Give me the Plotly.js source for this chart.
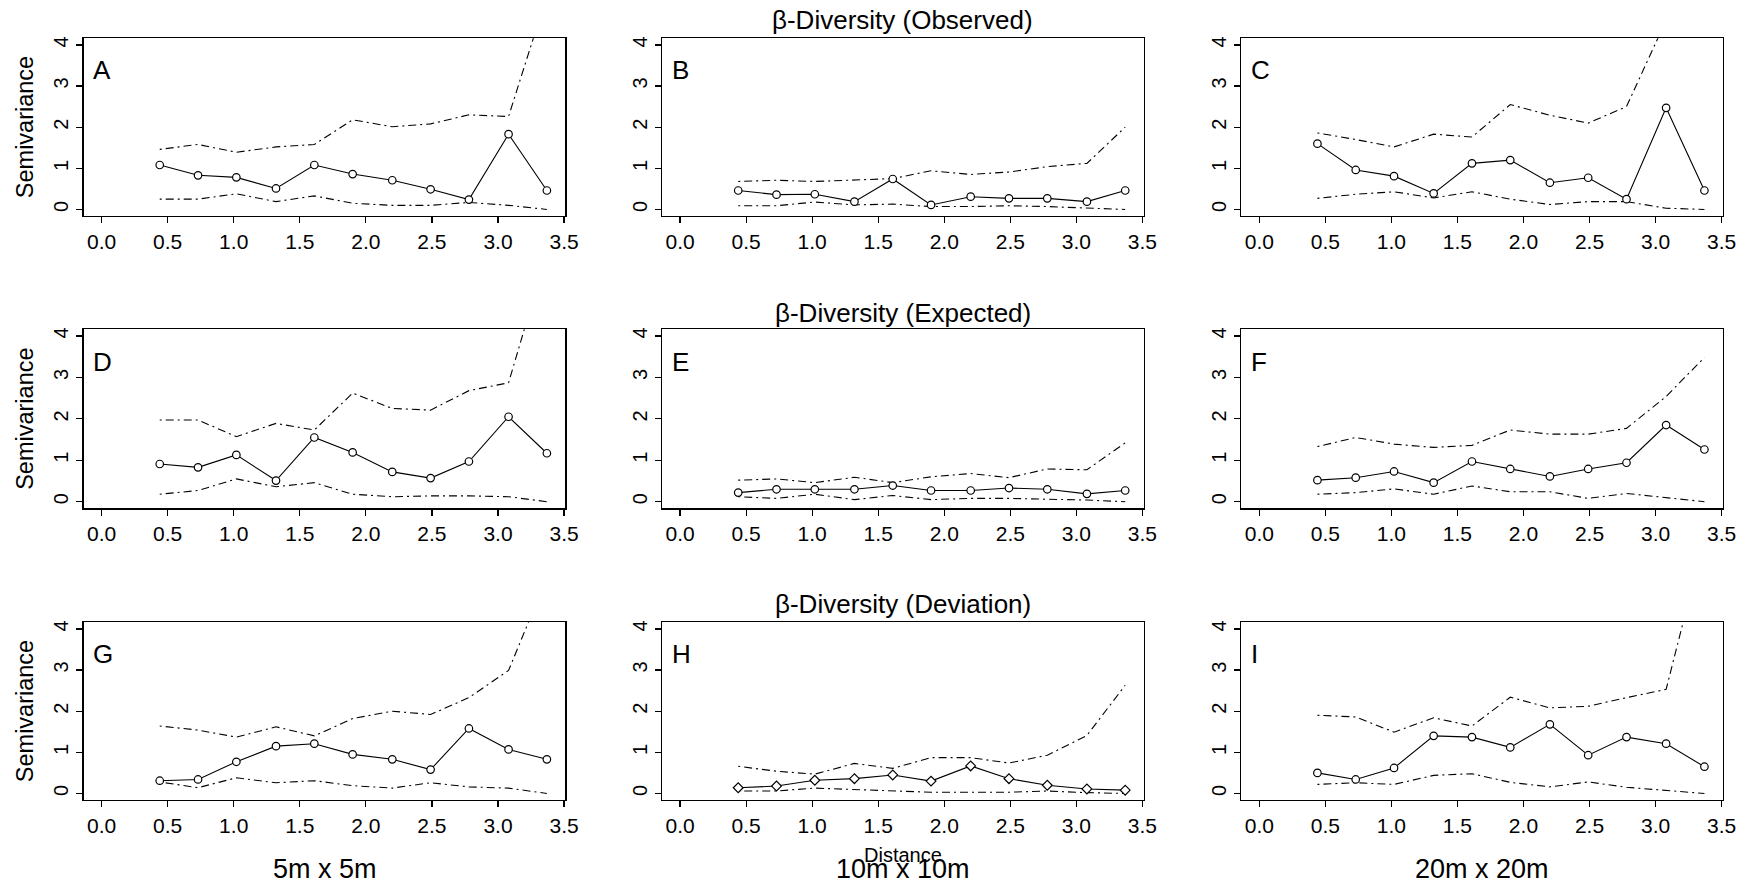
<!DOCTYPE html>
<html><head><meta charset="utf-8">
<script src="https://cdn.plot.ly/plotly-3.0.1.min.js"></script>
<style>html,body{margin:0;padding:0;background:#fff}</style>
</head><body><div id="chart" style="width:1752px;height:885px"></div>
<script>
// Distance classes (shared by all panels)
const distance = [0.44, 0.73, 1.02, 1.32, 1.61, 1.90, 2.20, 2.49, 2.78, 3.08, 3.37];

const panelLetters = ["A", "B", "C", "D", "E", "F", "G", "H", "I"];
const rowTitles = ["β-Diversity (Observed)", "β-Diversity (Expected)", "β-Diversity (Deviation)"];
const columnLabels = ["5m x 5m", "10m x 10m", "20m x 20m"];
const xTickValues = [0, 0.5, 1, 1.5, 2, 2.5, 3, 3.5];
const yTickValues = [0, 1, 2, 3, 4];

// Semivariance (points) and upper / lower envelopes per panel
const semA = [1.08, 0.83, 0.78, 0.51, 1.08, 0.86, 0.71, 0.49, 0.24, 1.83, 0.46];
const upA  = [1.46, 1.58, 1.39, 1.52, 1.58, 2.18, 2.01, 2.08, 2.30, 2.26, 5.20];
const loA  = [0.25, 0.25, 0.38, 0.19, 0.33, 0.15, 0.10, 0.10, 0.17, 0.10, 0.00];

const semB = [0.46, 0.36, 0.37, 0.19, 0.74, 0.11, 0.31, 0.27, 0.27, 0.19, 0.46];
const upB  = [0.68, 0.71, 0.68, 0.71, 0.75, 0.94, 0.85, 0.91, 1.04, 1.12, 2.00];
const loB  = [0.09, 0.09, 0.18, 0.11, 0.13, 0.07, 0.07, 0.09, 0.07, 0.03, 0.00];

const semC = [1.60, 0.96, 0.81, 0.39, 1.12, 1.20, 0.65, 0.77, 0.25, 2.47, 0.46];
const upC  = [1.86, 1.70, 1.52, 1.83, 1.76, 2.55, 2.29, 2.10, 2.50, 4.60, 6.00];
const loC  = [0.27, 0.37, 0.43, 0.28, 0.43, 0.25, 0.12, 0.19, 0.19, 0.03, 0.00];

const semD = [0.91, 0.83, 1.13, 0.51, 1.55, 1.19, 0.72, 0.57, 0.97, 2.05, 1.17];
const upD  = [1.97, 1.97, 1.57, 1.89, 1.73, 2.62, 2.25, 2.21, 2.68, 2.87, 6.00];
const loD  = [0.18, 0.27, 0.55, 0.36, 0.46, 0.18, 0.12, 0.14, 0.14, 0.12, 0.00];

const semE = [0.22, 0.30, 0.30, 0.30, 0.39, 0.27, 0.27, 0.33, 0.30, 0.19, 0.27];
const upE  = [0.52, 0.55, 0.46, 0.59, 0.46, 0.60, 0.68, 0.58, 0.79, 0.77, 1.42];
const loE  = [0.12, 0.08, 0.18, 0.05, 0.15, 0.05, 0.08, 0.08, 0.06, 0.04, 0.00];

const semF = [0.52, 0.58, 0.73, 0.46, 0.97, 0.79, 0.61, 0.79, 0.94, 1.85, 1.26];
const upF  = [1.33, 1.55, 1.39, 1.31, 1.36, 1.73, 1.63, 1.63, 1.77, 2.54, 3.48];
const loF  = [0.18, 0.22, 0.31, 0.18, 0.38, 0.24, 0.24, 0.08, 0.20, 0.10, 0.00];

const semG = [0.31, 0.34, 0.77, 1.15, 1.21, 0.95, 0.83, 0.58, 1.58, 1.07, 0.83];
const upG  = [1.64, 1.54, 1.37, 1.62, 1.40, 1.82, 2.00, 1.92, 2.33, 2.99, 5.25];
const loG  = [0.28, 0.14, 0.38, 0.26, 0.31, 0.19, 0.13, 0.26, 0.16, 0.13, 0.00];

const semH = [0.14, 0.18, 0.32, 0.36, 0.45, 0.30, 0.67, 0.36, 0.20, 0.11, 0.08];
const upH  = [0.66, 0.54, 0.47, 0.73, 0.61, 0.87, 0.87, 0.74, 0.93, 1.41, 2.63];
const loH  = [0.06, 0.06, 0.13, 0.10, 0.06, 0.03, 0.03, 0.03, 0.06, 0.02, 0.00];

const semI = [0.50, 0.34, 0.62, 1.40, 1.37, 1.12, 1.68, 0.93, 1.37, 1.21, 0.65];
const upI  = [1.90, 1.86, 1.49, 1.84, 1.64, 2.34, 2.08, 2.12, 2.33, 2.53, 6.20];
const loI  = [0.22, 0.26, 0.22, 0.44, 0.48, 0.27, 0.16, 0.28, 0.15, 0.07, 0.00];

const semSeries = [semA, semB, semC, semD, semE, semF, semG, semH, semI];
const upSeries  = [upA, upB, upC, upD, upE, upF, upG, upH, upI];
const loSeries  = [loA, loB, loC, loD, loE, loF, loG, loH, loI];

// ---------- layout geometry ----------
const colX = [[0.0478, 0.3227], [0.3780, 0.6528], [0.7086, 0.9834]];
const rowY = [[0.7559, 0.9567], [0.4256, 0.6279], [0.0960, 0.2968]];
const FONT = "Liberation Sans, Arial, sans-serif";
const envDash = "2px,4px,8px,4px";

const traces = [];
const layout = {
  width: 1752, height: 885,
  margin: {l: 0, r: 0, t: 0, b: 0},
  paper_bgcolor: "#ffffff", plot_bgcolor: "#ffffff",
  showlegend: false,
  font: {family: FONT, color: "#000"},
  annotations: []
};

for (let i = 0; i < 9; i++) {
  const r = Math.floor(i / 3), c = i % 3;
  const n = i + 1;
  const xa = "x" + (n === 1 ? "" : n), ya = "y" + (n === 1 ? "" : n);
  const xk = "xaxis" + (n === 1 ? "" : n), yk = "yaxis" + (n === 1 ? "" : n);
  const sym = (i === 7) ? "diamond" : "circle";

  traces.push({x: distance, y: upSeries[i], xaxis: xa, yaxis: ya, mode: "lines",
    line: {color: "#000", width: 1.1, dash: envDash}, hoverinfo: "skip"});
  traces.push({x: distance, y: loSeries[i], xaxis: xa, yaxis: ya, mode: "lines",
    line: {color: "#000", width: 1.1, dash: envDash}, hoverinfo: "skip"});
  traces.push({x: distance, y: semSeries[i], xaxis: xa, yaxis: ya, mode: "lines+markers",
    line: {color: "#000", width: 1.1},
    marker: {symbol: sym, size: 7.5, color: "#fff", line: {color: "#000", width: 1.2}}});

  layout[xk] = {
    domain: colX[c], anchor: ya, range: [-0.135, 3.51],
    tickmode: "array", tickvals: xTickValues, tickformat: ".1f",
    showline: true, mirror: true, linecolor: "#000", linewidth: 1.3,
    ticks: "outside", ticklen: 6, tickwidth: 1.2, tickcolor: "#000",
    showgrid: false, zeroline: false, fixedrange: true,
    tickfont: {family: FONT, size: 21, color: "#000"}
  };
  layout[yk] = {
    domain: rowY[r], anchor: xa, range: [-0.16, 4.16],
    tickmode: "array", tickvals: yTickValues, tickangle: -90,
    showline: true, mirror: true, linecolor: "#000", linewidth: 1.3,
    ticks: "outside", ticklen: 6, tickwidth: 1.2, tickcolor: "#000",
    showgrid: false, zeroline: false, fixedrange: true,
    tickfont: {family: FONT, size: 20, color: "#000"}
  };

  layout.annotations.push({
    text: panelLetters[i], xref: xa + " domain", yref: ya + " domain",
    x: 0.016, y: 0.82, xanchor: "left", yanchor: "middle", showarrow: false,
    font: {family: FONT, size: 26, color: "#000"}
  });
}

// Row titles over the middle column
const titleY = [0.977, 0.646, 0.317];
for (let r = 0; r < 3; r++) {
  layout.annotations.push({
    text: rowTitles[r], xref: "paper", yref: "paper",
    x: (colX[1][0] + colX[1][1]) / 2, y: titleY[r], xanchor: "center", yanchor: "middle",
    showarrow: false, font: {family: FONT, size: 26, color: "#000"}
  });
  // Semivariance labels left of first column
  layout.annotations.push({
    text: "Semivariance", xref: "paper", yref: "paper",
    x: 25 / 1752, y: (rowY[r][0] + rowY[r][1]) / 2, xanchor: "center", yanchor: "middle",
    textangle: -90, showarrow: false, font: {family: FONT, size: 23.5, color: "#000"}
  });
}

// Column labels and shared x-axis label
for (let c = 0; c < 3; c++) {
  layout.annotations.push({
    text: columnLabels[c], xref: "paper", yref: "paper",
    x: (colX[c][0] + colX[c][1]) / 2, y: 1 - 869 / 885, xanchor: "center", yanchor: "middle",
    showarrow: false, font: {family: FONT, size: 27, color: "#000"}
  });
}
layout.annotations.push({
  text: "Distance", xref: "paper", yref: "paper",
  x: (colX[1][0] + colX[1][1]) / 2, y: 1 - 855 / 885, xanchor: "center", yanchor: "middle",
  showarrow: false, font: {family: FONT, size: 20, color: "#000"}
});

Plotly.newPlot("chart", traces, layout, {displayModeBar: false, staticPlot: true});
</script>
</body></html>
